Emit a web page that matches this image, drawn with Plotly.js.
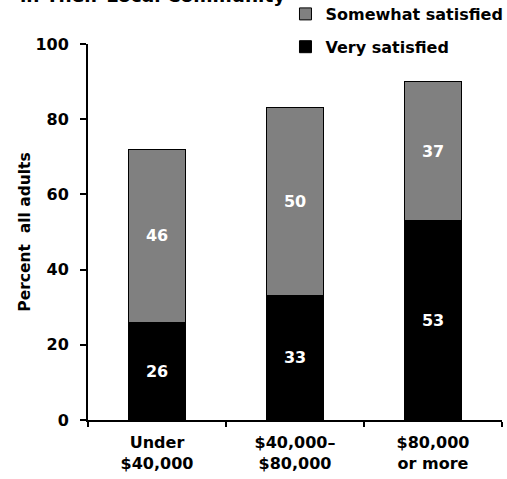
<!DOCTYPE html>
<html><head><meta charset="utf-8">
<script src="https://cdn.plot.ly/plotly-3.0.1.min.js"></script>
<style>body{margin:0;padding:0;background:#fff}#chart{width:507px;height:479px}</style>
</head><body><div id="chart"></div>
<script>
var categories = ["Under<br>$40,000", "$40,000–<br>$80,000", "$80,000<br>or more"];
var verySatisfied = [26, 33, 53];
var somewhatSatisfied = [46, 50, 37];
var yTicks = [0, 20, 40, 60, 80, 100];
var titleText = "in Their Local Community";

var font = "DejaVu Sans, sans-serif";
var traces = [
  {type: "bar", name: "Very satisfied", x: categories, y: verySatisfied, legendgroup: "a", legendrank: 2,
   text: verySatisfied.map(String), textposition: "inside", insidetextanchor: "middle",
   textfont: {color: "#fff", size: 16, family: font, weight: "bold"}, width: 0.41,
   marker: {color: "#000", line: {color: "#000", width: 1}}, hoverinfo: "none"},
  {type: "bar", name: "Somewhat satisfied", x: categories, y: somewhatSatisfied, legendgroup: "b", legendrank: 1,
   text: somewhatSatisfied.map(String), textposition: "inside", insidetextanchor: "middle",
   textfont: {color: "#fff", size: 16, family: font, weight: "bold"}, width: 0.41,
   marker: {color: "#808080", line: {color: "#000", width: 1}}, hoverinfo: "none"}
];
var layout = {
  width: 507, height: 479, barmode: "stack", showlegend: true,
  margin: {l: 88, r: 5, t: 44, b: 59, autoexpand: false},
  paper_bgcolor: "#fff", plot_bgcolor: "#fff",
  font: {family: font, color: "#000", size: 16, weight: "bold"},
  xaxis: {type: "category", showline: true, linecolor: "#000", linewidth: 2,
          ticks: "outside", tickson: "boundaries", ticklen: 5, tickwidth: 2, tickcolor: "#000",
          ticklabelstandoff: 7,
          tickfont: {size: 16, family: font, weight: "bold"}, fixedrange: true, automargin: false},
  yaxis: {range: [0, 100], tickvals: yTicks, showline: true, linecolor: "#000", linewidth: 2,
          ticks: "outside", ticklen: 6, tickwidth: 2, tickcolor: "#000", showgrid: false,
          ticklabelstandoff: 8,
          zeroline: false, tickfont: {size: 16, family: font, weight: "bold"}, automargin: false,
          title: {text: "Percent  all adults", font: {size: 15.5, family: font, weight: "bold"}, standoff: 1},
          fixedrange: true},
  legend: {x: 0.477, y: 1.125, xanchor: "left", yanchor: "top", traceorder: "grouped",
           font: {size: 16, family: font, weight: "bold"}, tracegroupgap: 9,
           itemwidth: 30, bgcolor: "rgba(0,0,0,0)"},
  annotations: [{text: titleText, xref: "paper", yref: "paper", x: -0.17, y: 1.13,
                 xanchor: "left", yanchor: "middle", showarrow: false,
                 font: {size: 18.5, family: font, weight: "bold"}}]
};
Plotly.newPlot("chart", traces, layout, {displayModeBar: false, staticPlot: true});
</script></body></html>
